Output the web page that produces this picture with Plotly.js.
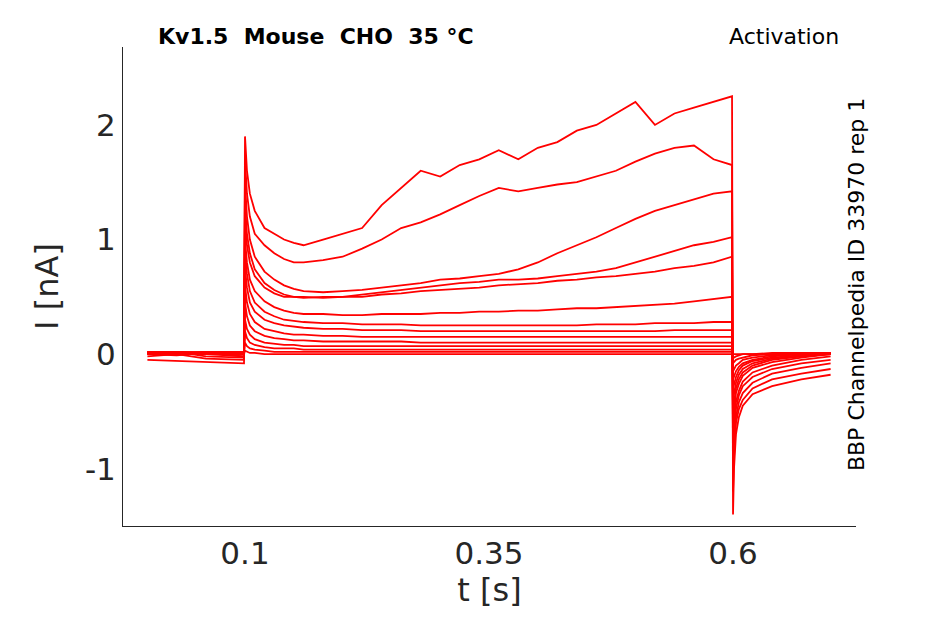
<!DOCTYPE html>
<html><head><script src="https://cdn.plot.ly/plotly-3.0.1.min.js"></script>
<style>body{margin:0}</style></head><body>
<div id="c" style="width:945px;height:624px"></div>
<script>
const t = [0,0.03,0.06,0.099,0.1,0.102,0.105,0.11,0.12,0.13,0.14,0.15,0.16,0.18,0.2,0.22,0.24,0.26,0.28,0.3,0.32,0.34,0.36,0.38,0.4,0.42,0.44,0.46,0.48,0.5,0.52,0.54,0.56,0.58,0.599,0.6,0.601,0.603,0.606,0.61,0.62,0.64,0.67,0.7];
const i1 = [0.02,0.01,0.0,-0.02,1.9,1.6,1.4,1.25,1.1,1.05,1.0,0.97,0.95,1.0,1.05,1.1,1.3,1.45,1.6,1.55,1.65,1.7,1.78,1.7,1.8,1.85,1.95,2.0,2.1,2.2,2.0,2.1,2.15,2.2,2.25,-1.4,-1.0,-0.7,-0.55,-0.45,-0.35,-0.28,-0.22,-0.18];
const i2 = [0.0,0.02,-0.02,-0.03,1.7,1.4,1.2,1.05,0.95,0.88,0.83,0.8,0.8,0.82,0.85,0.92,1.0,1.1,1.15,1.22,1.3,1.38,1.45,1.42,1.45,1.48,1.5,1.55,1.6,1.68,1.75,1.8,1.82,1.7,1.65,-1.2,-0.9,-0.6,-0.48,-0.4,-0.3,-0.22,-0.17,-0.13];
const i3 = [-0.02,0.0,-0.04,-0.05,1.5,1.2,1.0,0.85,0.72,0.65,0.6,0.57,0.55,0.54,0.55,0.56,0.58,0.6,0.62,0.65,0.66,0.68,0.7,0.74,0.8,0.88,0.95,1.02,1.1,1.18,1.25,1.3,1.35,1.4,1.42,-1.0,-0.8,-0.55,-0.42,-0.34,-0.25,-0.17,-0.12,-0.08];
const i4 = [-0.05,-0.06,-0.07,-0.08,1.3,1.05,0.88,0.74,0.62,0.56,0.52,0.5,0.5,0.49,0.5,0.52,0.54,0.56,0.58,0.6,0.62,0.63,0.65,0.65,0.66,0.68,0.7,0.72,0.75,0.8,0.85,0.9,0.95,0.98,1.02,-0.9,-0.7,-0.48,-0.36,-0.28,-0.2,-0.13,-0.08,-0.05];
const i5 = [0.0,-0.01,0.01,-0.02,1.2,0.95,0.8,0.68,0.58,0.53,0.5,0.5,0.49,0.5,0.5,0.5,0.52,0.53,0.55,0.56,0.57,0.58,0.6,0.61,0.62,0.64,0.65,0.67,0.68,0.7,0.72,0.75,0.77,0.8,0.85,-0.75,-0.6,-0.42,-0.32,-0.24,-0.16,-0.1,-0.05,-0.02];
const i6 = [0.01,0.0,0.02,0.0,1.0,0.8,0.65,0.55,0.46,0.41,0.38,0.36,0.35,0.35,0.34,0.34,0.35,0.35,0.35,0.36,0.36,0.37,0.37,0.38,0.38,0.39,0.4,0.4,0.41,0.42,0.43,0.44,0.46,0.48,0.5,-0.6,-0.5,-0.34,-0.26,-0.19,-0.12,-0.07,-0.03,0.0];
const i7 = [0.02,0.01,0.0,0.01,0.9,0.7,0.55,0.45,0.37,0.33,0.3,0.29,0.28,0.27,0.27,0.26,0.26,0.26,0.25,0.25,0.25,0.25,0.25,0.25,0.25,0.25,0.25,0.26,0.26,0.26,0.27,0.27,0.27,0.28,0.28,-0.5,-0.42,-0.3,-0.22,-0.16,-0.1,-0.05,-0.02,0.0];
const i8 = [0.01,0.02,0.01,0.0,0.75,0.58,0.45,0.37,0.3,0.27,0.25,0.24,0.23,0.22,0.22,0.21,0.21,0.21,0.2,0.2,0.2,0.2,0.2,0.2,0.2,0.2,0.2,0.2,0.2,0.2,0.2,0.21,0.21,0.21,0.21,-0.4,-0.35,-0.25,-0.18,-0.13,-0.08,-0.04,-0.02,0.0];
const i9 = [0.0,0.01,0.02,0.01,0.6,0.45,0.35,0.28,0.22,0.2,0.18,0.17,0.17,0.16,0.16,0.15,0.15,0.15,0.15,0.15,0.15,0.15,0.15,0.15,0.15,0.15,0.15,0.15,0.15,0.15,0.15,0.15,0.15,0.15,0.15,-0.3,-0.27,-0.2,-0.14,-0.1,-0.06,-0.03,-0.01,0.01];
const i10 = [0.02,0.01,0.02,0.02,0.45,0.33,0.25,0.2,0.16,0.14,0.13,0.12,0.12,0.11,0.11,0.11,0.11,0.11,0.1,0.1,0.1,0.1,0.1,0.1,0.1,0.1,0.1,0.1,0.1,0.1,0.1,0.1,0.1,0.1,0.1,-0.22,-0.2,-0.15,-0.11,-0.08,-0.05,-0.02,0.0,0.01];
const i11 = [0.01,0.02,0.01,0.02,0.3,0.22,0.17,0.13,0.1,0.09,0.08,0.08,0.07,0.07,0.07,0.07,0.07,0.07,0.07,0.07,0.07,0.07,0.07,0.07,0.07,0.07,0.07,0.07,0.07,0.07,0.07,0.07,0.07,0.07,0.07,-0.15,-0.13,-0.1,-0.08,-0.05,-0.03,-0.01,0.0,0.01];
const i12 = [0.02,0.02,0.01,0.01,0.2,0.14,0.1,0.08,0.06,0.05,0.05,0.05,0.04,0.04,0.04,0.04,0.04,0.04,0.04,0.04,0.04,0.04,0.04,0.04,0.04,0.04,0.04,0.04,0.04,0.04,0.04,0.04,0.04,0.04,0.04,-0.08,-0.07,-0.05,-0.04,-0.03,-0.01,0.0,0.01,0.01];
const i13 = [0.01,0.0,0.01,0.0,0.1,0.07,0.05,0.04,0.03,0.02,0.02,0.02,0.02,0.02,0.02,0.02,0.02,0.02,0.02,0.02,0.02,0.02,0.02,0.02,0.02,0.02,0.02,0.02,0.02,0.02,0.02,0.02,0.02,0.02,0.02,-0.03,-0.03,-0.02,-0.01,0.0,0.0,0.01,0.01,0.01];
const i14 = [0.0,0.01,0.0,0.0,0.03,0.02,0.01,0.01,0.0,0.0,0.0,0.0,0.0,0.0,0.0,0.0,0.0,0.0,0.0,0.0,0.0,0.0,0.0,0.0,0.0,0.0,0.0,0.0,0.0,0.0,0.0,0.0,0.0,0.0,0.0,0.0,0.0,0.0,0.0,0.0,0.0,0.0,0.0,0.0];
const series = [i1,i2,i3,i4,i5,i6,i7,i8,i9,i10,i11,i12,i13,i14];
const xTicks = [0.1,0.35,0.6];
const yTicks = [-1,0,1,2];

const data = series.map(y => ({x:t, y:y, type:'scatter', mode:'lines', line:{color:'#ff0000', width:1.8}, hoverinfo:'skip'}));
const f = 'DejaVu Sans, sans-serif';
Plotly.newPlot('c', data, {
  width:945, height:624, showlegend:false,
  paper_bgcolor:'white', plot_bgcolor:'white',
  margin:{l:123, r:89, t:47, b:98},
  xaxis:{range:[-0.025,0.726], tickvals:xTicks, ticktext:xTicks.map(String), showgrid:false, zeroline:false,
    showline:true, linecolor:'#262626', ticks:'', tickfont:{family:f,size:31,color:'#262626'},
    title:{text:'t [s]', font:{family:f,size:32,color:'#262626'}, standoff:8}},
  yaxis:{range:[-1.5,2.68], tickvals:yTicks, ticktext:yTicks.map(String), showgrid:false, zeroline:false,
    showline:true, linecolor:'#262626', ticks:'', tickfont:{family:f,size:31,color:'#262626'},
    title:{text:'I [nA]', font:{family:f,size:32,color:'#262626'}, standoff:16}},
  annotations:[
    {xref:'paper', yref:'paper', x:0.045, y:1.0, xanchor:'left', yanchor:'bottom', yshift:-4, showarrow:false,
     text:'<b>Kv1.5  Mouse  CHO  35 °C</b>', font:{family:f,size:22,color:'black'}},
    {xref:'paper', yref:'paper', x:0.98, y:1.0, xanchor:'right', yanchor:'bottom', yshift:-4, showarrow:false,
     text:'Activation', font:{family:f,size:22,color:'black'}},
    {xref:'paper', yref:'paper', x:1.0, y:0.503, xanchor:'center', yanchor:'middle', showarrow:false, textangle:-90,
     text:'BBP Channelpedia ID 33970 rep 1', font:{family:f,size:22,color:'black'}}
  ]
}, {displayModeBar:false});
</script></body></html>
